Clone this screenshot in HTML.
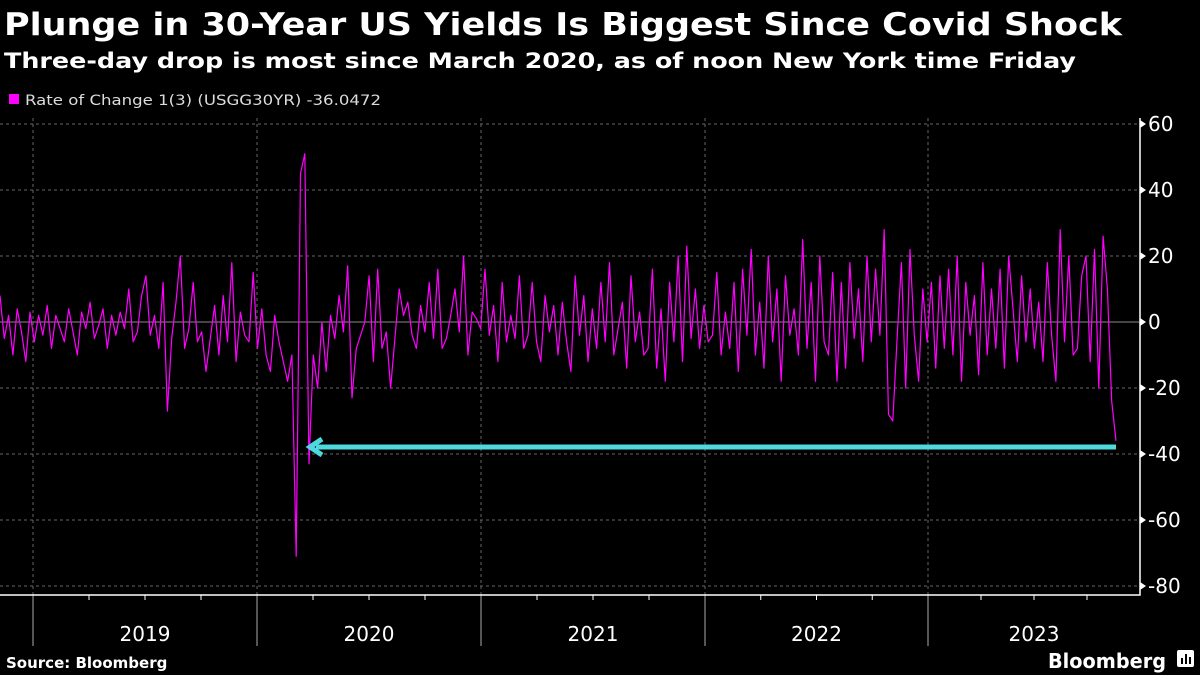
<!DOCTYPE html>
<html><head><meta charset="utf-8"><style>
html,body{margin:0;padding:0;background:#000;}
svg{display:block;}
text{font-family:"DejaVu Sans","Liberation Sans",sans-serif;}
</style></head><body>
<svg id="chart" width="1200" height="675" viewBox="0 0 1200 675" xmlns="http://www.w3.org/2000/svg">
<rect width="1200" height="675" fill="#000"/>
<text x="4" y="35" font-size="31" font-weight="bold" fill="#fff" textLength="1118" lengthAdjust="spacingAndGlyphs">Plunge in 30-Year US Yields Is Biggest Since Covid Shock</text>
<text x="4" y="68" font-size="21" font-weight="bold" fill="#fff" textLength="1072" lengthAdjust="spacingAndGlyphs">Three-day drop is most since March 2020, as of noon New York time Friday</text>
<rect x="9" y="94" width="10" height="10" fill="#ff00ff"/>
<text x="25" y="105" font-size="14" fill="#ddd" textLength="356" lengthAdjust="spacingAndGlyphs">Rate of Change 1(3) (USGG30YR) -36.0472</text>
<g id="grid"></g>
<g id="axes"></g>
<polyline id="series" fill="none" stroke="#ff00ff" stroke-width="1.2" stroke-linejoin="round"/>
<g>
<line x1="1116" y1="447" x2="316" y2="447" stroke="#4dd9dd" stroke-width="5"/>
<polyline points="322,439 310,447 322,455" fill="none" stroke="#4dd9dd" stroke-width="5"/>
</g>
<text x="6" y="668" font-size="15" font-weight="bold" fill="#fff">Source: Bloomberg</text>
<text x="1048" y="668" font-size="20" font-weight="bold" fill="#fff" font-family="Liberation Sans, sans-serif" textLength="118" lengthAdjust="spacingAndGlyphs">Bloomberg</text>
<g><rect x="1177" y="650" width="17" height="17" rx="2" fill="#fff"/><rect x="1181" y="658" width="2" height="6" fill="#000"/><rect x="1185" y="654" width="2" height="10" fill="#000"/><rect x="1189" y="657" width="2" height="7" fill="#000"/></g>
</svg>
<script>
const yTicks=[60,40,20,0,-20,-40,-60,-80];
const yearLabels=["2019","2020","2021","2022","2023"];
const values=[
8,-5,2,-10,4,-3,-12,3,-6,2,
-4,5,-8,2,-2,-6,4,-3,-10,3,
-2,6,-5,-1,4,-8,2,-4,3,-2,
10,-6,-3,8,14,-4,2,-8,12,-27,
-5,6,20,-8,-2,12,-6,-3,-15,-5,
5,-10,8,-6,18,-12,3,-4,-6,15,
-8,4,-10,-15,2,-6,-12,-18,-10,-71,
45,51,-43,-10,-20,0,-15,2,-5,8,
-3,17,-23,-8,-4,0,14,-12,16,-8,
-3,-20,-5,10,2,6,-4,-8,5,-3,
12,-5,16,-8,-5,2,10,-3,20,-10,
3,1,-2,16,-4,5,-12,12,-6,2,
-5,14,-8,-4,12,-6,-12,8,-3,5,
-10,6,-6,-15,14,-4,8,-12,4,-8,
12,-6,18,-10,-2,6,-14,14,-6,3,
-10,-8,16,-14,4,-18,12,-6,20,-12,
23,-5,10,-8,5,-6,-4,15,-10,3,
-8,12,-15,16,-4,22,-10,6,-14,20,
-6,10,-18,14,-4,4,-10,25,-8,12,
-18,20,-6,-10,15,-18,12,-14,18,-5,
10,-12,20,-6,16,-4,28,-28,-30,-5,
18,-20,22,-4,-18,10,-6,12,-14,14,
-8,16,-10,20,-18,12,-4,8,-16,18,
-10,10,-8,16,-14,20,4,-12,14,-6,
10,-8,6,-12,18,-4,-18,28,-6,20,
-10,-8,14,20,-12,22,-20,26,10,-24,
-36];
const NS="http://www.w3.org/2000/svg";
const plotL=0,plotR=1140,plotT=118,plotB=595,lastX=1116;
function y(v){return 322-v*3.3;}
function x(i){return plotL+i*(lastX-plotL)/(values.length-1);}
const yearX=[33,257,481,705,928,1140];
const grid=document.getElementById('grid'),axes=document.getElementById('axes');
function mk(tag,attrs,parent){const e=document.createElementNS(NS,tag);for(const k in attrs)e.setAttribute(k,attrs[k]);parent.appendChild(e);return e;}
yTicks.forEach(t=>{
  const l=mk('line',{x1:0,x2:plotR,y1:y(t),y2:y(t),stroke:t===0?'#888':'#666','stroke-width':1,'stroke-dasharray':t===0?'none':'3,3'},grid);
  
  
  const tk=mk('path',{d:`M${plotR} ${y(t)-4}L${plotR+6} ${y(t)}L${plotR} ${y(t)+4}Z`,fill:'#fff'},axes);
  
  
  const tx=mk('text',{x:plotR+8,y:y(t)+7,'font-size':20,fill:'#fff'},axes);
  tx.textContent=t;
  
  
});
yearX.slice(0,5).forEach((xx,i)=>{
  const g=mk('line',{x1:xx,x2:xx,y1:plotT,y2:plotB,stroke:'#666','stroke-dasharray':'3,3'},grid);
  
  
  const s=mk('line',{x1:xx,x2:xx,y1:plotB,y2:646,stroke:'#aaa'},axes);
  
  
  for(let q=1;q<4;q++){const qx=xx+(yearX[i+1]-xx)*q/4;
    const m=mk('line',{x1:qx,x2:qx,y1:plotB,y2:plotB+5,stroke:'#fff'},axes);
    
    }
  const lt=mk('text',{x:(xx+(i<4?yearX[i+1]:1140))/2,y:641,'font-size':20,fill:'#fff','text-anchor':'middle'},axes);
  lt.textContent=yearLabels[i];
  
  
});
const ax=mk('path',{d:`M${plotR} ${plotT}L${plotR} ${plotB}L0 ${plotB}`,fill:'none',stroke:'#fff','stroke-width':1.5},axes);


document.getElementById('series').setAttribute('points',values.map((v,i)=>x(i).toFixed(1)+','+y(v).toFixed(1)).join(' '));
</script>
</body></html>
